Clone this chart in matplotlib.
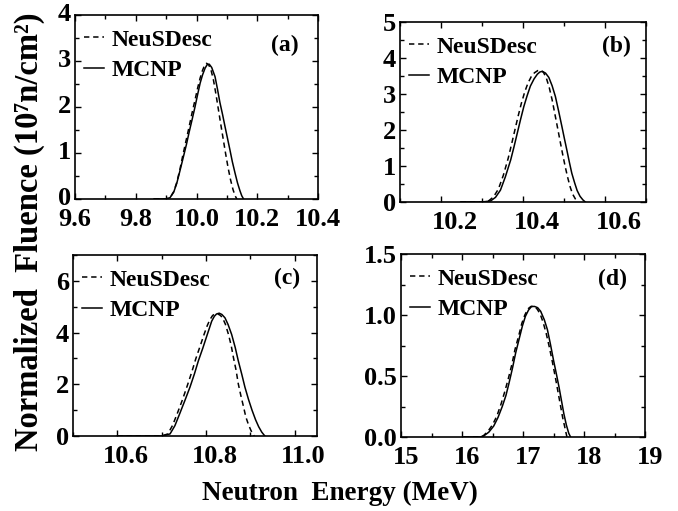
import numpy as np
import matplotlib
matplotlib.use("Agg")
import matplotlib.pyplot as plt
from matplotlib.ticker import MultipleLocator, FormatStrFormatter
import matplotlib.transforms as mtransforms

plt.rcParams['font.family'] = ['Liberation Serif', 'DejaVu Serif']
plt.rcParams['font.weight'] = 'bold'

# ---- data ----
# (a)
a_mcnp_x = [9.86, 9.90, 9.913, 9.925, 9.935, 9.945, 9.957, 9.967, 9.976, 9.986, 9.995, 10.004, 10.012,
            10.020, 10.028, 10.035, 10.042, 10.050, 10.061, 10.069, 10.077, 10.086, 10.094, 10.102,
            10.110, 10.118, 10.127, 10.135, 10.143, 10.149, 10.155]
a_mcnp_y = [0, 0, 0.03, 0.15, 0.34, 0.60, 0.92, 1.19, 1.46, 1.74, 2.00, 2.28, 2.52,
            2.70, 2.84, 2.92, 2.93, 2.86, 2.66, 2.39, 2.10, 1.83, 1.57, 1.32,
            1.07, 0.81, 0.56, 0.35, 0.18, 0.07, 0]
a_neus_x = [9.86, 9.90, 9.913, 9.925, 9.935, 9.945, 9.955, 9.965, 9.975, 9.985, 9.995, 10.004, 10.012,
            10.020, 10.027, 10.033, 10.040, 10.048, 10.056, 10.064, 10.072, 10.080, 10.088, 10.096,
            10.104, 10.112, 10.120, 10.127, 10.133]
a_neus_y = [0, 0, 0.03, 0.16, 0.36, 0.63, 0.95, 1.25, 1.55, 1.86, 2.15, 2.42, 2.63,
            2.80, 2.91, 2.95, 2.92, 2.80, 2.58, 2.28, 1.95, 1.62, 1.30, 0.98,
            0.68, 0.42, 0.21, 0.07, 0]

# (b)
b_mcnp_x = [10.248, 10.30, 10.321, 10.333, 10.345, 10.357, 10.370, 10.378, 10.386, 10.394, 10.402,
            10.410, 10.418, 10.427, 10.435, 10.441, 10.447, 10.455, 10.463, 10.471, 10.479, 10.487,
            10.495, 10.501, 10.507, 10.513, 10.519, 10.526, 10.532, 10.539, 10.546, 10.552]
b_mcnp_y = [0, 0, 0.03, 0.13, 0.33, 0.70, 1.17, 1.53, 1.91, 2.29, 2.65,
            2.95, 3.22, 3.42, 3.55, 3.61, 3.63, 3.58, 3.46, 3.23, 2.93, 2.52,
            2.09, 1.76, 1.44, 1.11, 0.80, 0.53, 0.32, 0.16, 0.06, 0]
b_neus_x = [10.248, 10.30, 10.316, 10.328, 10.340, 10.352, 10.364, 10.372, 10.380, 10.388, 10.396,
            10.404, 10.412, 10.420, 10.428, 10.436, 10.443, 10.450, 10.457, 10.464, 10.471, 10.478,
            10.485, 10.491, 10.497, 10.503, 10.509, 10.515, 10.521, 10.528, 10.535]
b_neus_y = [0, 0, 0.03, 0.14, 0.36, 0.74, 1.22, 1.60, 1.99, 2.38, 2.74,
            3.05, 3.30, 3.48, 3.59, 3.65, 3.66, 3.60, 3.44, 3.18, 2.84, 2.43,
            2.02, 1.66, 1.31, 0.98, 0.68, 0.42, 0.22, 0.08, 0]

# (c)
c_mcnp_x = [10.60, 10.70, 10.719, 10.730, 10.741, 10.752, 10.764, 10.774, 10.783, 10.793, 10.802,
            10.808, 10.813, 10.819, 10.824, 10.830, 10.836, 10.843, 10.850, 10.858, 10.866, 10.873,
            10.881, 10.888, 10.896, 10.904, 10.912, 10.919, 10.926, 10.933]
c_mcnp_y = [0, 0, 0.08, 0.40, 0.87, 1.35, 1.89, 2.40, 2.91, 3.40, 3.87,
            4.18, 4.44, 4.63, 4.72, 4.75, 4.70, 4.57, 4.31, 3.93, 3.43, 2.91,
            2.38, 1.89, 1.42, 1.00, 0.63, 0.36, 0.15, 0]
c_neus_x = [10.60, 10.70, 10.714, 10.725, 10.736, 10.747, 10.758, 10.768, 10.777, 10.787, 10.796,
            10.803, 10.809, 10.815, 10.821, 10.827, 10.833, 10.838, 10.844, 10.851, 10.857, 10.862,
            10.868, 10.873, 10.879, 10.885, 10.890, 10.896, 10.902, 10.909]
c_neus_y = [0, 0, 0.08, 0.42, 0.90, 1.40, 1.95, 2.47, 2.98, 3.48, 3.94,
            4.27, 4.50, 4.66, 4.73, 4.72, 4.66, 4.55, 4.32, 3.92, 3.50, 3.04,
            2.55, 2.02, 1.55, 1.12, 0.74, 0.44, 0.20, 0]

# (d)
d_mcnp_x = [16.03, 16.30, 16.36, 16.44, 16.52, 16.59, 16.66, 16.72, 16.77, 16.83, 16.88, 16.94,
            16.99, 17.04, 17.09, 17.14, 17.19, 17.24, 17.29, 17.35, 17.40, 17.45, 17.50, 17.55,
            17.59, 17.63, 17.67, 17.71, 17.75, 17.78]
d_mcnp_y = [0, 0, 0.01, 0.04, 0.09, 0.16, 0.25, 0.34, 0.44, 0.57, 0.69, 0.81,
            0.91, 0.99, 1.04, 1.07, 1.07, 1.06, 1.03, 0.96, 0.88, 0.76, 0.63, 0.51,
            0.41, 0.30, 0.19, 0.10, 0.03, 0]
d_neus_x = [16.03, 16.30, 16.35, 16.43, 16.50, 16.57, 16.64, 16.70, 16.76, 16.82, 16.87, 16.93,
            16.98, 17.03, 17.08, 17.13, 17.18, 17.23, 17.28, 17.33, 17.38, 17.43, 17.48, 17.53,
            17.57, 17.61, 17.65, 17.69, 17.72]
d_neus_y = [0, 0, 0.01, 0.05, 0.10, 0.17, 0.27, 0.37, 0.48, 0.60, 0.72, 0.83,
            0.93, 1.00, 1.05, 1.07, 1.07, 1.05, 1.01, 0.94, 0.85, 0.74, 0.62, 0.49,
            0.38, 0.27, 0.16, 0.07, 0]

panel_labels = ['(a)', '(b)', '(c)', '(d)']

W, H = 678, 511
fig = plt.figure(figsize=(W / 100, H / 100), dpi=100)

def add_axes(l, r, t, b):
    return fig.add_axes([l / W, 1 - b / H, (r - l) / W, (b - t) / H])

def px(dx, dy):
    return mtransforms.ScaledTranslation(dx / 100, dy / 100, fig.dpi_scale_trans)

panels = [
    # box px, xlim, ylim, xmajor, xminor, ymajor, yminor, xfmt, yfmt, data,
    # tick label shift (px), panel label pos
    ((75, 318, 15, 199), (9.6, 10.4), (0, 4), 0.2, 0.1, 1, 0.5, '%.1f', '%d',
     (a_neus_x, a_neus_y, a_mcnp_x, a_mcnp_y), (0, 3), (0.864, 0.837)),
    ((400, 646, 22, 202), (10.1, 10.7), (0, 5), 0.2, 0.1, 1, 0.5, '%.1f', '%d',
     (b_neus_x, b_neus_y, b_mcnp_x, b_mcnp_y), (14, 0), (0.88, 0.865)),
    ((73, 316.7, 255, 436), (10.5, 11.05), (0, 7), 0.2, 0.1, 2, 1, '%.1f', '%d',
     (c_neus_x, c_neus_y, c_mcnp_x, c_mcnp_y), (9, 0), (0.878, 0.87)),
    ((401, 645, 254, 437), (15, 19), (0, 1.5), 1, 0.5, 0.5, 0.25, '%d', '%.1f',
     (d_neus_x, d_neus_y, d_mcnp_x, d_mcnp_y), (5, 0), (0.865, 0.863)),
]

for i, (box, xl, yl, xM, xm, yM, ym, xf, yf, dat, shift, lpos) in enumerate(panels):
    ax = add_axes(*box)
    nx, ny, mx, my = dat
    ax.plot(nx, ny, color='black', lw=1.1, ls=(0, (3.5, 2.5)), label='NeuSDesc')
    ax.plot(mx, my, color='black', lw=1.1, ls='-', label='MCNP')
    ax.set_xlim(*xl)
    ax.set_ylim(*yl)
    ax.xaxis.set_major_locator(MultipleLocator(xM))
    ax.xaxis.set_minor_locator(MultipleLocator(xm))
    ax.yaxis.set_major_locator(MultipleLocator(yM))
    ax.yaxis.set_minor_locator(MultipleLocator(ym))
    ax.xaxis.set_major_formatter(FormatStrFormatter(xf))
    ax.yaxis.set_major_formatter(FormatStrFormatter(yf))
    ax.tick_params(which='both', direction='in', top=True, right=True, width=1.0)
    ax.tick_params(which='major', length=4, labelsize=19)
    ax.tick_params(axis='x', which='major', pad=6.5)
    ax.tick_params(axis='y', which='major', pad=3)
    ax.tick_params(which='minor', length=3)
    for s in ax.spines.values():
        s.set_linewidth(1.2)
    ax.legend(loc='upper left', frameon=False, fontsize=17, handlelength=0.85,
              handletextpad=0.3, labelspacing=0.37, borderaxespad=0, borderpad=0,
              bbox_to_anchor=(0, 1), bbox_transform=ax.transAxes + px(9, -14))
    ax.text(lpos[0], lpos[1], panel_labels[i], transform=ax.transAxes, fontsize=17,
            ha='center', va='center')
    if shift[0]:
        for lab in ax.get_xticklabels():
            lab.set_transform(lab.get_transform() + px(shift[0], 0))
    if shift[1]:
        for lab in ax.get_yticklabels():
            lab.set_transform(lab.get_transform() + px(0, shift[1]))

fig.text(29 / W, 1 - 232 / H, 'Normalized  Fluence (10\u2077n/cm\u00b2)', rotation=90,
         ha='center', va='center', fontsize=23.5)
fig.text(340 / W, 1 - 493 / H, 'Neutron  Energy (MeV)', ha='center', va='center', fontsize=19.5)

fig.savefig('out.png', dpi=100)
